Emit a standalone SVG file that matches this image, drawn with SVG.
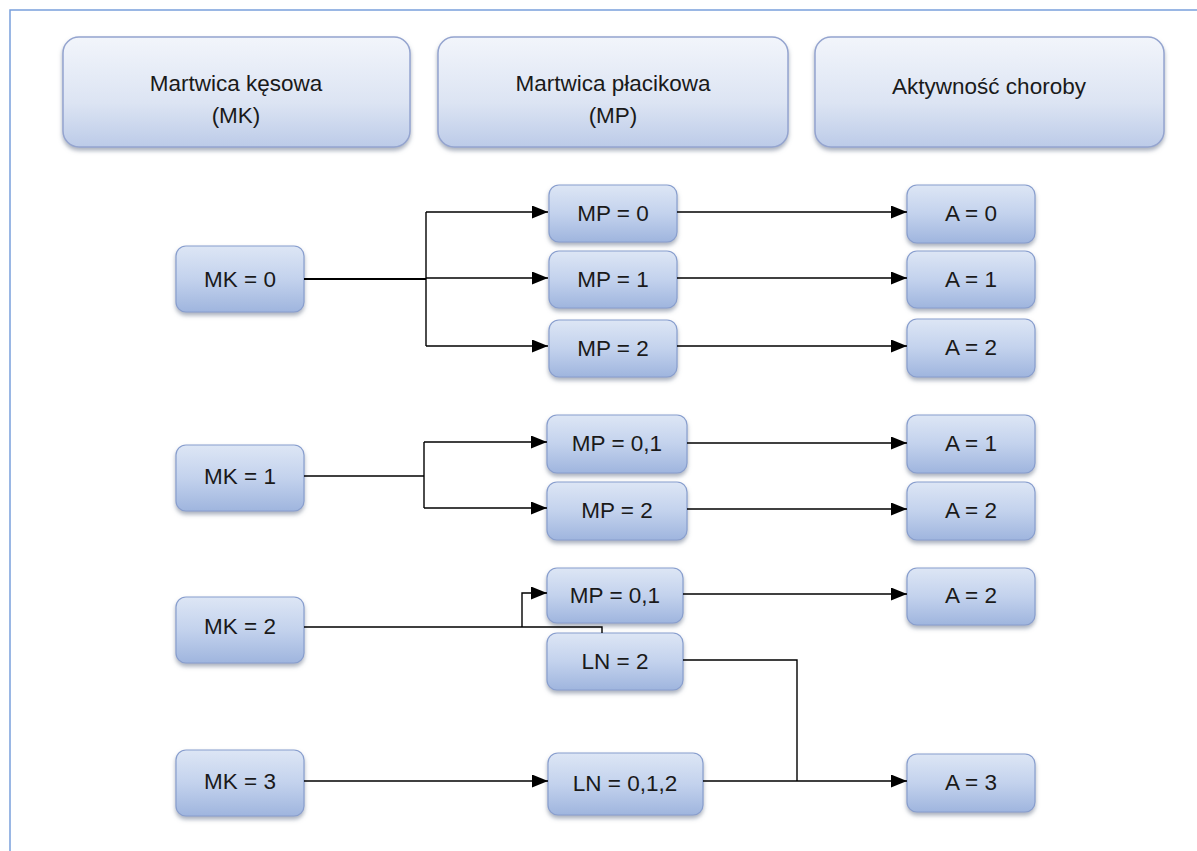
<svg xmlns="http://www.w3.org/2000/svg" width="1197" height="851" viewBox="0 0 1197 851">
<defs>
<linearGradient id="gh" x1="0" y1="0" x2="0" y2="1">
<stop offset="0" stop-color="#f2f5fb"/>
<stop offset="0.6" stop-color="#dce4f3"/>
<stop offset="1" stop-color="#bccbe8"/>
</linearGradient>
<linearGradient id="gs" x1="0" y1="0" x2="0" y2="1">
<stop offset="0" stop-color="#dde6f5"/>
<stop offset="0.5" stop-color="#c3d2ed"/>
<stop offset="1" stop-color="#9fb5de"/>
</linearGradient>
<filter id="sh" x="-10%" y="-10%" width="120%" height="130%">
<feDropShadow dx="0" dy="3" stdDeviation="2" flood-color="#6f7b92" flood-opacity="0.6"/>
</filter>
<marker id="ar" markerUnits="userSpaceOnUse" markerWidth="18" markerHeight="15" refX="16" refY="6.5" orient="auto">
<path d="M0,0 L16,6.5 L0,13 z" fill="#000"/>
</marker>
</defs>
<style>
.hb{fill:url(#gh);stroke:#94a4cf;stroke-width:1.5;filter:url(#sh)}
.sb{fill:url(#gs);stroke:#889ece;stroke-width:1.2;filter:url(#sh)}
text{font-family:"Liberation Sans",Arial,sans-serif;font-size:22.5px;fill:#1a1a1a;text-anchor:middle}
.c path{fill:none;stroke:#000;stroke-width:1.4}
.c .a{marker-end:url(#ar)}
</style>
<rect width="1197" height="851" fill="#fff"/>
<path d="M10,851 V10 H1197" fill="none" stroke="#7aa0dc" stroke-width="1.5"/>

<g id="h1"><rect class="hb" x="63" y="37" width="347" height="110" rx="16"/><text x="236" y="91">Martwica kęsowa</text><text x="236" y="123">(MK)</text></g>
<g id="h2"><rect class="hb" x="438" y="37" width="350" height="110" rx="16"/><text x="613" y="91">Martwica płacikowa</text><text x="613" y="123">(MP)</text></g>
<g id="h3"><rect class="hb" x="815" y="37" width="349" height="110" rx="16"/><text x="989" y="94">Aktywność choroby</text></g>

<g id="mk0"><rect class="sb" x="176" y="246" width="128" height="66" rx="10"/><text x="240" y="287">MK = 0</text></g>
<g id="mk1"><rect class="sb" x="176" y="445" width="128" height="66" rx="10"/><text x="240" y="484">MK = 1</text></g>
<g id="mk2"><rect class="sb" x="176" y="597" width="128" height="66" rx="10"/><text x="240" y="634">MK = 2</text></g>
<g id="mk3"><rect class="sb" x="176" y="750" width="128" height="66" rx="10"/><text x="240" y="789">MK = 3</text></g>

<g id="mp0"><rect class="sb" x="549" y="185" width="128" height="57" rx="10"/><text x="613" y="221">MP = 0</text></g>
<g id="mp1"><rect class="sb" x="549" y="251" width="128" height="57" rx="10"/><text x="613" y="287">MP = 1</text></g>
<g id="mp2"><rect class="sb" x="549" y="320" width="128" height="57" rx="10"/><text x="613" y="356">MP = 2</text></g>
<g id="mp01a"><rect class="sb" x="547" y="415" width="140" height="58" rx="10"/><text x="617" y="451">MP = 0,1</text></g>
<g id="mp2b"><rect class="sb" x="547" y="482" width="140" height="58" rx="10"/><text x="617" y="518">MP = 2</text></g>
<g id="mp01b"><rect class="sb" x="547" y="568" width="136" height="55" rx="10"/><text x="615" y="603">MP = 0,1</text></g>
<g id="ln2"><rect class="sb" x="547" y="633" width="136" height="57" rx="10"/><text x="615" y="669">LN = 2</text></g>
<g id="ln012"><rect class="sb" x="548" y="753" width="155" height="62" rx="10"/><text x="625" y="791">LN = 0,1,2</text></g>

<g id="a0"><rect class="sb" x="907" y="185" width="128" height="58" rx="10"/><text x="971" y="221">A = 0</text></g>
<g id="a1"><rect class="sb" x="907" y="251" width="128" height="57" rx="10"/><text x="971" y="287">A = 1</text></g>
<g id="a2"><rect class="sb" x="907" y="319" width="128" height="58" rx="10"/><text x="971" y="355">A = 2</text></g>
<g id="a1b"><rect class="sb" x="907" y="415" width="128" height="58" rx="10"/><text x="971" y="451">A = 1</text></g>
<g id="a2b"><rect class="sb" x="907" y="482" width="128" height="58" rx="10"/><text x="971" y="518">A = 2</text></g>
<g id="a2c"><rect class="sb" x="907" y="568" width="128" height="57" rx="10"/><text x="971" y="603">A = 2</text></g>
<g id="a3"><rect class="sb" x="907" y="754" width="128" height="58" rx="10"/><text x="971" y="790">A = 3</text></g>

<g id="connectors" class="c">
<path d="M304,279 H426" style="stroke-width:2"/>
<path d="M426,212 V346"/>
<path class="a" d="M426,212 H548"/>
<path class="a" d="M426,278 H548"/>
<path class="a" d="M426,346 H548"/>
<path class="a" d="M677,212 H907"/>
<path class="a" d="M677,278 H907"/>
<path class="a" d="M677,346 H907"/>
<path d="M304,476 H424"/>
<path d="M424,442 V508"/>
<path class="a" d="M424,442 H547"/>
<path class="a" d="M424,508 H547"/>
<path class="a" d="M687,443 H907"/>
<path class="a" d="M687,509 H907"/>
<path d="M304,627 H602 V633"/>
<path class="a" d="M522,627 V593 H547"/>
<path class="a" d="M683,594 H907"/>
<path d="M683,660 H797 V781"/>
<path class="a" d="M703,781 H907"/>
<path class="a" d="M304,781 H548"/>
</g>
</svg>
